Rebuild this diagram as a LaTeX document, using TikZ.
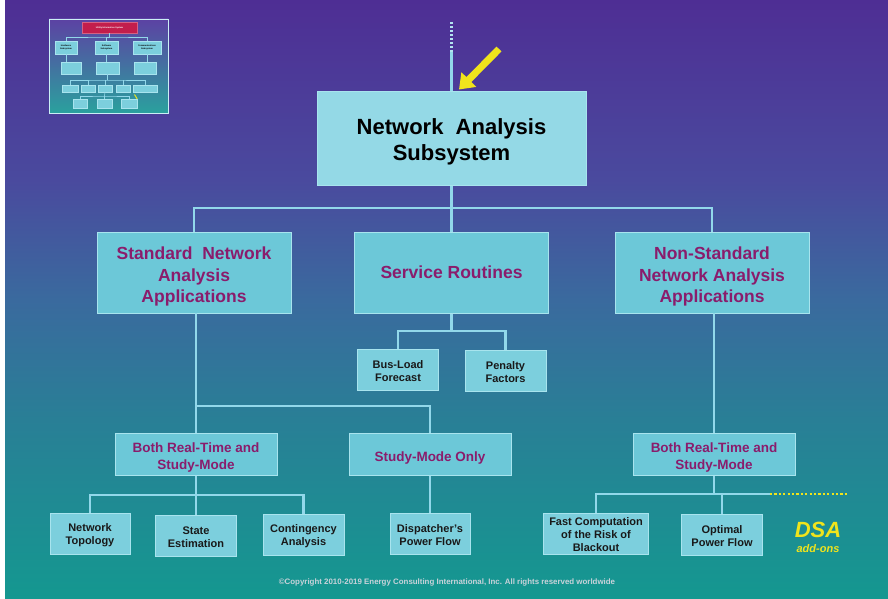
\documentclass[tikz,border=0pt]{standalone}
\usepackage{fontspec}
\setmainfont{Liberation Sans}
\usetikzlibrary{arrows.meta}

% palette
\definecolor{bgtop}{HTML}{4E2E94}
\definecolor{bgup}{HTML}{4A4A9E}
\definecolor{bgmid}{HTML}{3A6A9E}
\definecolor{bglow}{HTML}{297F96}
\definecolor{bgbot}{HTML}{149890}
\definecolor{mainfill}{HTML}{94D9E6}
\definecolor{boxfill}{HTML}{6CC8D8}
\definecolor{leaffill}{HTML}{7CCFDD}
\definecolor{boxedge}{HTML}{A8E4EE}
\definecolor{linecol}{HTML}{92D8EA}
\definecolor{magtext}{HTML}{8A1C6C}
\definecolor{dsayellow}{HTML}{F0E41C}
\definecolor{copytext}{HTML}{C9D3DA}
\definecolor{thumbtop}{HTML}{5C42A3}
\definecolor{thumbbot}{HTML}{2AA19E}
\definecolor{thumbred}{HTML}{C21E4C}

% vertical background blend (path spans 25bp..75bp of the shading)
\pgfdeclareverticalshading{bgshade}{100bp}{%
  color(0bp)=(bgbot); color(25bp)=(bgbot); color(40bp)=(bglow);
  color(50bp)=(bgmid); color(60bp)=(bgup); color(75bp)=(bgtop);
  color(100bp)=(bgtop)}

% a taller first line pushes the text block a little below the box centre
\newcommand{\droptext}[1]{\rule{0pt}{\dimexpr0.73em+#1\relax}}

\tikzset{
  anybox/.style={draw=boxedge, line width=1pt, inner sep=0pt, align=center},
  mainbox/.style={anybox, fill=mainfill, minimum width=269pt, minimum height=93pt,
    text=black, font=\fontsize{22}{26}\selectfont\bfseries},
  groupbox/.style={anybox, fill=boxfill, minimum width=194pt, minimum height=81pt,
    text=magtext, font=\fontsize{17.5}{21.5}\selectfont\bfseries},
  modebox/.style={anybox, fill=boxfill, minimum width=162pt, minimum height=42pt,
    text=magtext, font=\fontsize{13.5}{17}\selectfont\bfseries},
  leafbox/.style={anybox, fill=leaffill, minimum width=81pt, minimum height=41pt,
    text=black!90, font=\fontsize{11}{13}\selectfont\bfseries},
  conn/.style={draw=linecol, line width=2.4pt},
  dotconn/.style={draw=linecol!70!white, line width=2.6pt, dash pattern=on 1.6pt off 2.4pt},
  dsadots/.style={draw=dsayellow, line width=2.4pt, dash pattern=on 2.2pt off 2.2pt},
  pointer/.style={draw=dsayellow, line width=7pt, -{Triangle[length=14pt,width=20pt]}},
  minibox/.style={draw=boxedge, line width=0.3pt, fill=leaffill, inner sep=0pt,
    align=center, text=black, font=\fontsize{2.2}{2.5}\selectfont\bfseries},
  minilink/.style={draw=linecol, line width=0.6pt},
}

\begin{document}
\begin{tikzpicture}[x=1pt, y=-1pt]
\useasboundingbox (0,0) rectangle (888,599);
\fill[white] (0,0) rectangle (888,599);
\shade[shading=bgshade] (5,0) rectangle (888,599);

% ---------- small overview of the whole information system ----------
\begin{scope}
  \shade[top color=thumbtop, bottom color=thumbbot, draw=boxedge!60, line width=0.4pt]
    (49,19) rectangle (168,113);
  \node[minibox, fill=thumbred, draw=thumbred!70!white, text=white,
        minimum width=55pt, minimum height=11pt] (uis) at (109.5,27.5) {Utility Information System};
  \node[minibox, minimum width=22pt, minimum height=13pt] (s1) at (66,47.5) {Hardware\\Subsystem};
  \node[minibox, minimum width=23pt, minimum height=13pt] (s2) at (106.5,47.5) {Software\\Subsystem};
  \node[minibox, minimum width=28pt, minimum height=13pt] (s3) at (147,47.5) {Communications\\Subsystem};
  \node[minibox, minimum width=20pt, minimum height=12pt] (r1) at (71,68) {};
  \node[minibox, minimum width=23pt, minimum height=12pt] (r2) at (107.5,68) {};
  \node[minibox, minimum width=22pt, minimum height=12pt] (r3) at (145,68) {};
  \node[minibox, minimum width=16pt, minimum height=7pt] (q1) at (70.5,88.5) {};
  \node[minibox, minimum width=14pt, minimum height=7pt] (q2) at (88,88.5) {};
  \node[minibox, minimum width=14pt, minimum height=7pt] (q3) at (105,88.5) {};
  \node[minibox, minimum width=14pt, minimum height=7pt] (q4) at (123,88.5) {};
  \node[minibox, minimum width=24pt, minimum height=7pt] (q5) at (145,88.5) {};
  \node[minibox, minimum width=14pt, minimum height=9pt] (t1) at (80,103.5) {};
  \node[minibox, minimum width=15pt, minimum height=9pt] (t2) at (104.5,103.5) {};
  \node[minibox, minimum width=16pt, minimum height=9pt] (t3) at (129,103.5) {};
  \coordinate (m0) at (109.5,37);
  \draw[minilink] (uis.south) -- (m0);
  \draw[minilink] (s1.north) |- (m0) -| (s3.north);
  \draw[minilink] (m0) -| (s2.north);
  \draw[minilink] (s1.south) -- (s1.south |- r1.north);
  \draw[minilink] (s2.south) -- (s2.south |- r2.north);
  \draw[minilink] (s3.south) -- (s3.south |- r3.north);
  \coordinate (m1) at (107.5,80);
  \draw[minilink] (r2.south) -- (m1);
  \draw[minilink] (q1.north) |- (m1) -| (q5.north);
  \draw[minilink] (q2.north) -- (q2.north |- m1);
  \draw[minilink] (q3.north) -- (q3.north |- m1);
  \draw[minilink] (q4.north) -- (q4.north |- m1);
  \coordinate (m2) at (104.5,96);
  \draw[minilink] (q3.south) -- (m2);
  \draw[minilink] (t1.north) |- (m2) -| (t3.north);
  \draw[minilink] (m2) -- (t2.north);
  \coordinate (mtail) at (134.5,94.5);
  \draw[draw=dsayellow, line width=1pt] (mtail) -- (t3.north east);
\end{scope}

% ---------- main hierarchy ----------
\node[mainbox] (nas) at (451.5,138.5) {\droptext{6pt}Network~~Analysis\\Subsystem};

\node[groupbox] (std)  at (194,272.5) {\droptext{8pt}Standard~~Network\\Analysis\\Applications};
\node[groupbox] (svc)  at (451.5,272.5) {Service Routines};
\node[groupbox] (nstd) at (712,272.5) {\droptext{8pt}Non-Standard\\Network Analysis\\Applications};

\node[leafbox] (bus) at (398,369.5) {\droptext{3pt}Bus-Load\\Forecast};
\node[leafbox] (pen) at (505.5,370.5) {\droptext{3pt}Penalty\\Factors};

\node[modebox] (both1) at (196,454) {\droptext{7pt}Both Real-Time and\\Study-Mode};
\node[modebox] (study) at (430,454) {\droptext{7pt}Study-Mode Only};
\node[modebox] (both2) at (714,454) {\droptext{7pt}Both Real-Time and\\Study-Mode};

\node[leafbox, minimum width=80pt] (nt) at (90,534) {\droptext{3pt}Network\\Topology};
\node[leafbox] (se) at (196,535.5) {\droptext{3pt}State\\Estimation};
\node[leafbox] (ca) at (303.5,534.5) {\droptext{3pt}Contingency\\Analysis};
\node[leafbox, minimum width=80pt] (dpf) at (430,534) {\droptext{3pt}Dispatcher's\\Power Flow};
\node[leafbox, minimum width=105pt] (fc) at (596,533.5) {\droptext{2pt}Fast Computation\\of the Risk of\\Blackout};
\node[leafbox] (opf) at (722,535) {\droptext{3pt}Optimal\\Power Flow};

% link upward out of the subsystem box
\coordinate (uptop) at (451.5,22);
\coordinate (upmid) at (451.5,52);
\draw[dotconn] (uptop) -- (upmid);
\draw[conn] (upmid) -- (nas.north);

% highlight pointer
\coordinate (ptail) at (499,49);
\draw[pointer] (ptail) -- ([shift={(7.5,-2)}]nas.north);

% subsystem to the three groups
\coordinate (b0) at (451.5,208);
\draw[conn] (nas.south) -- (b0);
\draw[conn] (std.north) |- (b0) -| (nstd.north);
\draw[conn] (b0) -- (svc.north);

% service routines
\coordinate (b1) at (451.5,331);
\draw[conn] (svc.south) -- (b1);
\draw[conn] (bus.north) |- (b1) -| (pen.north);

% standard applications
\coordinate (b2a) at (196,313);
\coordinate (b2) at (196,406);
\draw[conn] (b2a) -- (b2) -| (study.north);
\draw[conn] (b2) -- (both1.north);

\coordinate (b3) at (196,495);
\draw[conn] (both1.south) -- (b3);
\draw[conn] (nt.north) |- (b3) -| (ca.north);
\draw[conn] (b3) -- (se.north);

\draw[conn] (study.south) -- (dpf.north);

% non-standard applications
\coordinate (b4a) at (714,313);
\draw[conn] (b4a) -- (both2.north);
\coordinate (b4) at (714,494);
\draw[conn] (both2.south) -- (b4);
\draw[conn] (fc.north) |- (b4) -| (opf.north);
\coordinate (b5) at (770,494);
\coordinate (b6) at (848,494);
\draw[conn] (opf.north |- b4) -- (b5);
\draw[dsadots] (b5) -- (b6);

% DSA label
\node[text=dsayellow, font=\fontsize{22}{24}\selectfont\bfseries\itshape, inner sep=0pt]
  (dsa) at (818,530) {DSA};
\node[text=dsayellow, font=\fontsize{11}{12}\selectfont\bfseries\itshape, inner sep=0pt]
  (addons) at (818,549) {add-ons};

% footer
\node[text=copytext, font=\fontsize{7.9}{9}\selectfont\bfseries, inner sep=0pt]
  (copy) at (447,582) {©Copyright 2010-2019 Energy Consulting International, Inc. All rights reserved worldwide};
\end{tikzpicture}
\end{document}
